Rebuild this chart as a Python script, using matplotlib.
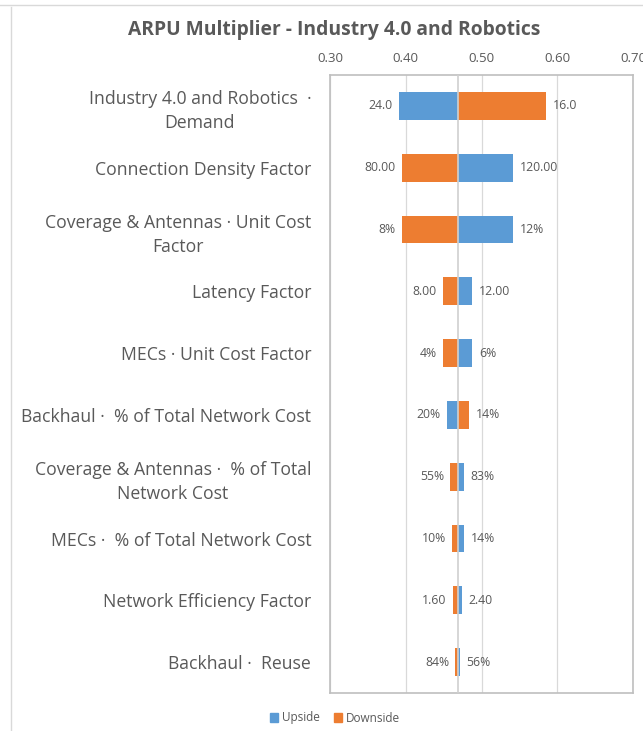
import matplotlib.pyplot as plt
from matplotlib.patches import Patch
from matplotlib.lines import Line2D

plt.rcParams['font.family'] = ['Open Sans', 'DejaVu Sans']

# tornado data
categories = ["Industry 4.0 and Robotics  \u00b7\nDemand",
              "Connection Density Factor",
              "Coverage & Antennas \u00b7 Unit Cost\nFactor",
              "Latency Factor",
              "MECs \u00b7 Unit Cost Factor",
              "Backhaul \u00b7  % of Total Network Cost",
              "Coverage & Antennas \u00b7  % of Total\nNetwork Cost",
              "MECs \u00b7  % of Total Network Cost",
              "Network Efficiency Factor",
              "Backhaul \u00b7  Reuse"]
base = 0.4688
upside = [0.3908, 0.5421, 0.5421, 0.4878, 0.4878, 0.4544, 0.4767, 0.4767, 0.4737, 0.4711]
downside = [0.5855, 0.3947, 0.3947, 0.4491, 0.4491, 0.4833, 0.4588, 0.4609, 0.4623, 0.4654]
upside_labels = ["24.0", "120.00", "12%", "12.00", "6%", "20%", "83%", "14%", "2.40", "56%"]
downside_labels = ["16.0", "80.00", "8%", "8.00", "4%", "14%", "55%", "10%", "1.60", "84%"]
ticks = [0.30, 0.40, 0.50, 0.60, 0.70]

blue = '#5B9BD5'
orange = '#ED7D31'
txt = '#595959'

fig = plt.figure(figsize=(6.43, 7.31), dpi=100)
ax = fig.add_axes([330/643, 1-693/731, 303/643, 618/731])

y = list(range(len(categories)))
h = 0.45
ax.barh(y, [u - base for u in upside], left=base, height=h, color=blue, zorder=3)
ax.barh(y, [d - base for d in downside], left=base, height=h, color=orange, zorder=3)

for i in y:
    for val, lab in ((upside[i], upside_labels[i]), (downside[i], downside_labels[i])):
        if val < base:
            ax.annotate(lab, (val, i), xytext=(-4.5, 0), textcoords='offset points',
                        ha='right', va='center', fontsize=8.8, color=txt)
        else:
            ax.annotate(lab, (val, i), xytext=(5, 0), textcoords='offset points',
                        ha='left', va='center', fontsize=8.8, color=txt)

ax.set_xlim(0.30, 0.70)
ax.set_ylim(len(categories) - 0.5, -0.5)
ax.set_xticks(ticks)
ax.set_xticklabels([f"{t:.2f}" for t in ticks])
ax.xaxis.tick_top()
ax.tick_params(axis='x', length=0, labelsize=9.5, colors=txt, pad=7.5)
ax.set_yticks(y)
ax.set_yticklabels(categories, fontsize=12.7, color=txt, multialignment='center',
                   linespacing=1.45)
ax.tick_params(axis='y', length=0, pad=13.5)
ax.grid(axis='x', color='#D9D9D9', linewidth=0.9, zorder=0)
ax.axvline(base, color='#D0D0D0', linewidth=1.2, zorder=4)
for s in ax.spines.values():
    s.set_color('#BFBFBF')
    s.set_linewidth(1.2)

fig.text(334/643, 1-30/731, "ARPU Multiplier - Industry 4.0 and Robotics",
         ha='center', va='center', fontsize=13.9, fontweight='bold', color=txt)

handles = [Patch(color=blue, label='Upside'), Patch(color=orange, label='Downside')]
fig.legend(handles=handles, loc='center', bbox_to_anchor=(335/643, 1-718/731), ncol=2,
           frameon=False, fontsize=8.5, handlelength=0.7, handleheight=0.7,
           handletextpad=0.3, columnspacing=1.2, labelcolor=txt)

# outer chart frame
fig.add_artist(Line2D([0, 1], [1-5/731, 1-5/731], color='#D9D9D9', linewidth=1))
fig.add_artist(Line2D([11/643, 11/643], [0, 1-7/731], color='#D9D9D9', linewidth=1))

fig.savefig('out.png', dpi=100)
